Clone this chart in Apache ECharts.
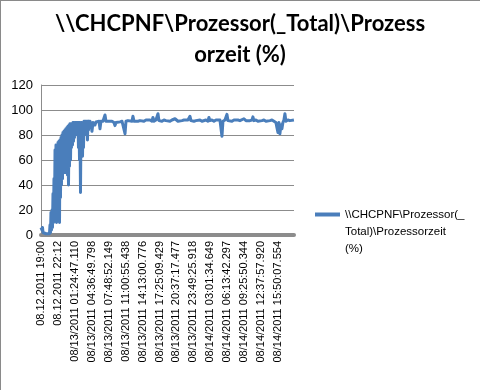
<!DOCTYPE html>
<html>
<head>
<meta charset="utf-8">
<script src="https://cdn.jsdelivr.net/npm/echarts@6/dist/echarts.min.js"></script>
<style>
html,body{margin:0;padding:0;background:#fff;}
#wrap{position:relative;width:480px;height:390px;}
#chart{width:480px;height:390px;}
#frame{position:absolute;left:0;top:0;width:480px;height:390px;box-sizing:border-box;border-left:1px solid #8a8a8a;border-top:1px solid #8a8a8a;pointer-events:none;}
</style>
</head>
<body>
<div id="wrap"><div id="chart"></div><div id="frame"></div></div>
<script>
// Title and series name
var titleText = "\\\\CHCPNF\\Prozessor(_Total)\\Prozess\norzeit (%)";
var seriesName = "\\\\CHCPNF\\Prozessor(_Total)\\Prozessorzeit (%)";
var legendLines = ["\\\\CHCPNF\\Prozessor(_", "Total)\\Prozessorzeit", "(%)"];

// X tick labels (one every 192 minutes from the start)
var tickLabels = [
  "08.12.2011 19:00", "08.12.2011 22:12",
  "08/13/2011 01:24:47.110", "08/13/2011 04:36:49.798", "08/13/2011 07:48:52.149",
  "08/13/2011 11:00:55.438", "08/13/2011 14:13:00.776", "08/13/2011 17:25:09.429",
  "08/13/2011 20:37:17.477", "08/13/2011 23:49:25.918", "08/14/2011 03:01:34.649",
  "08/14/2011 06:13:42.297", "08/14/2011 09:25:50.344", "08/14/2011 12:37:57.920",
  "08/14/2011 15:50:07.554"
];
var tickStepMin = 192;
var xMaxMin = 2870;

// Elapsed minutes since 08.12.2011 19:00
var minutes = [
  0,6,11,17,23,34,57,79,96,102,
  108,113,119,125,130,136,142,147,153,159,
  164,170,176,181,187,193,198,204,210,215,
  221,227,232,238,244,249,255,261,266,272,
  278,283,289,295,300,306,312,318,323,329,
  335,340,346,352,357,363,369,374,380,386,
  391,397,403,408,414,420,425,431,437,442,
  448,454,459,465,471,476,482,488,493,499,
  505,510,516,522,527,533,539,544,550,556,
  567,578,590,601,612,624,635,646,658,669,
  680,692,703,714,726,737,748,760,782,805,
  828,839,851,873,896,919,941,953,964,987,
  1009,1032,1043,1055,1077,1100,1123,1145,1168,1191,
  1213,1236,1259,1270,1281,1304,1327,1338,1349,1372,
  1395,1418,1440,1463,1486,1508,1520,1531,1554,1576,
  1599,1622,1644,1667,1690,1701,1712,1735,1758,1780,
  1803,1826,1848,1871,1894,1905,1916,1939,1962,1985,
  2007,2030,2053,2064,2087,2109,2121,2143,2166,2189,
  2211,2234,2257,2279,2302,2325,2347,2370,2393,2404,
  2415,2438,2461,2483,2506,2529,2552,2574,2597,2620,
  2642,2665,2676,2688,2699,2710,2722,2733,2744,2756,
  2767,2778,2801,2824,2846,2869
];
// Processor time (%)
var cpu = [
  6,5,4,6,2,1,1,1.5,1,8,
  2,18,4,20,6,33,10,45,15,68,
  20,72,10,70,12,74,18,75,10,76,
  30,78,40,80,45,82,50,83,55,84,
  50,85,55,86,48,87,40,88,55,89,
  60,89,70,89,72,90,75,90,78,90,
  80,90,82,90,83,90,70,90,60,90,
  34,90,65,90,63,90,70,91,80,91,
  82,91,84,91,76,91,84,91,86,91,
  89,83,90,91,88,90.5,91,90,91,85,
  91,90,91,91.5,96,91,90,91,90.5,91,
  90,87.5,90,91,90.5,91,91,81,91,91.5,
  91,91,95,91,92,91,91.5,92,91,92,
  91.5,92,91,94,91,92,97,91.5,92,91,
  92,91.5,92,91,92,91,93,92,91,92,
  91.5,92,91,92,95,91.5,92,91,91.5,90.5,
  92,91,91.5,92,91,94,91.5,92,91,92,
  91.5,92,79,91,92,96.5,91.5,92,91,92,
  91,92,91.5,92,93,91.5,92,91.5,92,94.5,
  91.5,92,91,92,91.5,92,91,92,91.5,92,
  91,90,86,82,90,81,88,85,90,92,
  97,91,92,91.5,92,92
];

var seriesData = minutes.map(function (m, i) { return [m, cpu[i]]; });

var chart = echarts.init(document.getElementById('chart'), null, {renderer: 'canvas'});
chart.setOption({
  animation: false,
  backgroundColor: '#ffffff',
  title: {
    text: titleText,
    left: 'center',
    top: 3,
    textStyle: {fontFamily: 'Lato', fontWeight: 'bold', fontSize: 22, lineHeight: 31, color: '#000'}
  },
  legend: {
    left: 315, top: 172, padding: 0,
    itemWidth: 25, itemHeight: 4, itemGap: 0,
    icon: 'rect',
    data: [seriesName],
    // two empty leading lines keep the first text line level with the icon
    formatter: function () { return '\n\n' + legendLines.join('\n'); },
    textStyle: {fontFamily: 'Liberation Sans', fontSize: 11.5, lineHeight: 17, color: '#000'}
  },
  grid: {left: 41, right: 186, top: 85, bottom: 155, containLabel: false},
  xAxis: {
    type: 'value', min: 0, max: xMaxMin, interval: tickStepMin,
    axisLine: {show: true, lineStyle: {color: '#8c8c8c', width: 4}},
    axisTick: {show: false},
    splitLine: {show: false},
    axisLabel: {
      rotate: 90, margin: 6, showMaxLabel: false,
      fontFamily: 'Liberation Sans', fontSize: 11, color: '#000',
      formatter: function (v) {
        if (v % tickStepMin !== 0) return '';
        return tickLabels[Math.round(v / tickStepMin)] || '';
      }
    }
  },
  yAxis: {
    type: 'value', min: 0, max: 120, interval: 20,
    axisLine: {show: true, lineStyle: {color: '#8c8c8c', width: 1}},
    axisTick: {show: false},
    splitLine: {show: true, lineStyle: {color: '#8c8c8c', width: 1}},
    axisLabel: {fontFamily: 'Liberation Sans', fontSize: 13, color: '#000', margin: 8}
  },
  series: [{
    name: seriesName,
    type: 'line',
    data: seriesData,
    showSymbol: false,
    symbol: 'none',
    lineStyle: {color: '#4a7ebb', width: 3, join: 'round'},
    itemStyle: {color: '#4a7ebb'}
  }]
});
</script>
</body>
</html>
